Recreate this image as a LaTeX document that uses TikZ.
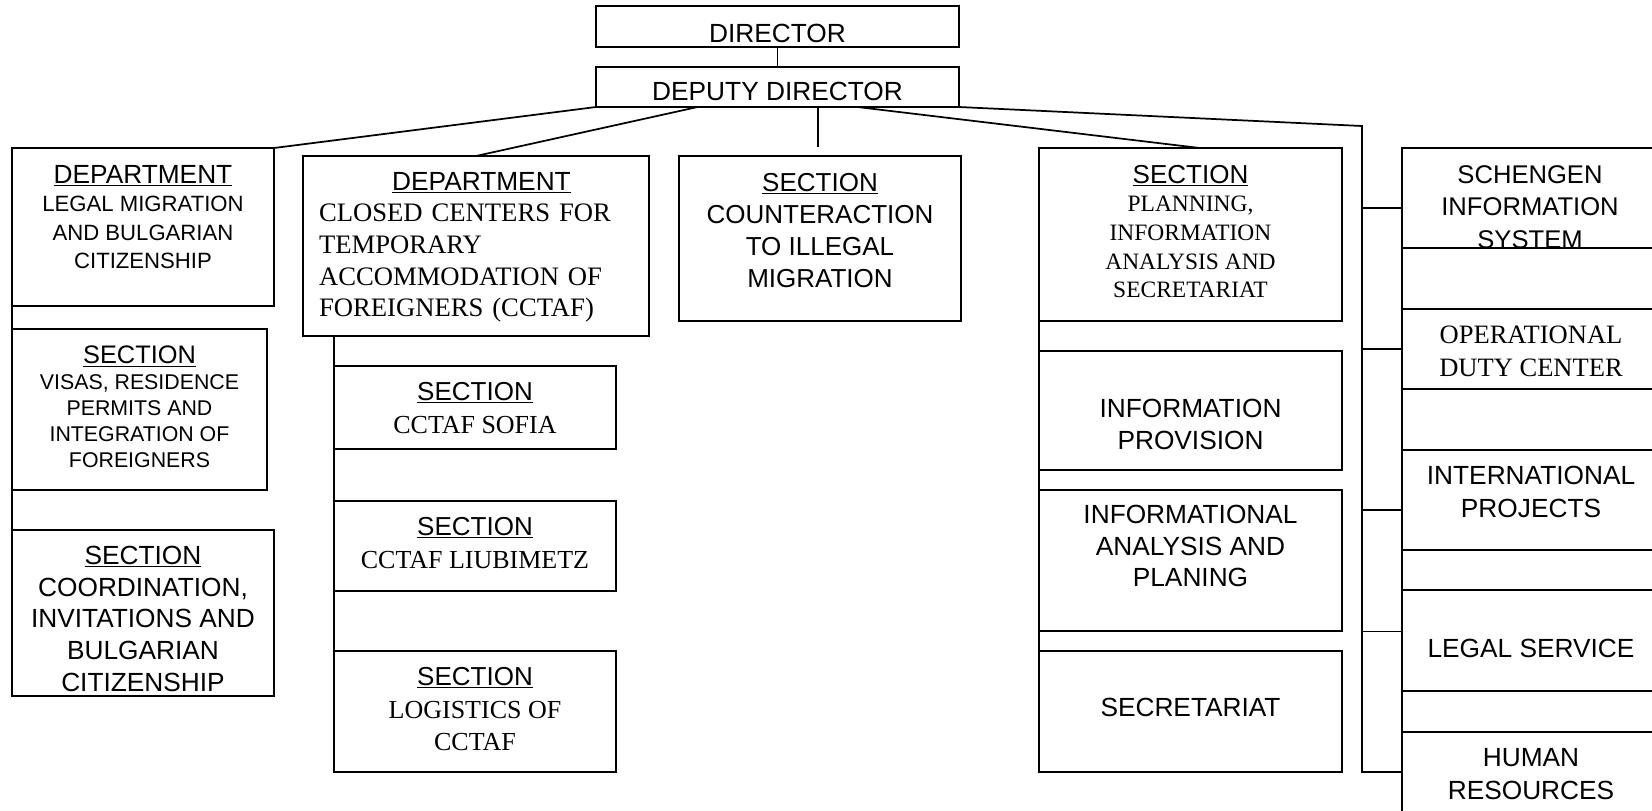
\documentclass[tikz,border=0pt]{standalone}
\usepackage{fontspec}
\setmainfont{Liberation Sans}
\newfontfamily\arial{Liberation Sans}
\newfontfamily\romain{Liberation Serif}
\usetikzlibrary{fit}
\usetikzlibrary{calc}
\newcommand*{\taille}[2]{\fontsize{#1}{#2}\selectfont}
\newcommand*{\titre}[1]{\underline{#1}}
\newcommand*{\grand}{\taille{19.7}{23.7}}
\tikzset{
	lien/.style={line width=1.3pt},
	boite/.style={draw,lien,inner sep=0pt,outer sep=0pt},
	texte/.style={anchor=north,inner sep=0pt,align=center,font=\grand},
}

\begin{document}
\begin{tikzpicture}[x=0.75pt,y=-0.75pt]
	\useasboundingbox (0,0) rectangle (1652,810);
	\clip (0,0) rectangle (1652,810);

	% direction
	\node[boite,fit={(596,6) (959,47)}] (dir) {};
	\node[texte] (tdir) at (777.5,24) {DIRECTOR};
	\node[boite,fit={(596,67) (959,107)}] (dep) {};
	\node[texte] (tdep) at (777.5,82) {DEPUTY DIRECTOR};

	% departement migration legale
	\node[boite,fit={(12,148) (274,306)}] (dlm) {};
	\node[texte,font=\taille{16.6}{21.3}] (tdlm) at (143,165)
		{{\taille{19.7}{21.3}\titre{DEPARTMENT}}\\LEGAL MIGRATION\\AND BULGARIAN\\CITIZENSHIP};
	\node[boite,fit={(12,329) (267,490)}] (vis) {};
	\node[texte,font=\taille{16}{19.5}] (tvis) at (139.5,346)
		{{\taille{19}{19.5}\titre{SECTION}}\\VISAS, RESIDENCE\\PERMITS AND\\INTEGRATION OF\\FOREIGNERS};
	\node[boite,fit={(12,530) (274,696)}] (coo) {};
	\node[texte] (tcoo) at (143,546)
		{\titre{SECTION}\\COORDINATION,\\INVITATIONS AND\\BULGARIAN\\CITIZENSHIP};

	% departement centres fermes
	\node[boite,fit={(303,156) (649,336)}] (dcc) {};
	\node[texte,align=left,text width=243.75pt,font=\romain\taille{20}{23.7}] (tdcc) at (481.5,172)
		{\centering{\arial\taille{19.7}{23.7}\titre{DEPARTMENT}}\par\raggedright
		CLOSED CENTERS FOR\\TEMPORARY\\ACCOMMODATION OF\\FOREIGNERS (CCTAF)};
	\node[boite,fit={(334,366) (616,449)}] (sof) {};
	\node[texte,font=\romain\taille{19.5}{24.5}] (tsof) at (475,382)
		{{\arial\titre{SECTION}}\\CCTAF SOFIA};
	\node[boite,fit={(334,501) (616,591)}] (liu) {};
	\node[texte,font=\romain\taille{19.5}{24.5}] (tliu) at (475,517)
		{{\arial\titre{SECTION}}\\CCTAF LIUBIMETZ};
	\node[boite,fit={(334,651) (616,772)}] (log) {};
	\node[texte,font=\romain\taille{19.5}{24.5}] (tlog) at (475,667)
		{{\arial\titre{SECTION}}\\LOGISTICS OF\\CCTAF};

	% section migration illegale
	\node[boite,fit={(679,156) (961,321)}] (cnt) {};
	\node[texte,font=\taille{19.5}{24}] (tcnt) at (820,173)
		{\titre{SECTION}\\COUNTERACTION\\TO ILLEGAL\\MIGRATION};

	% section planification
	\node[boite,fit={(1039,148) (1342,321)}] (pla) {};
	\node[texte,font=\romain\taille{17.6}{21.4}] (tpla) at (1190.5,165)
		{{\arial\taille{19.5}{21.4}\titre{SECTION}}\\PLANNING,\\INFORMATION\\ANALYSIS AND\\SECRETARIAT};
	\node[boite,fit={(1039,351) (1342,470)}] (ipr) {};
	\node[texte] (tipr) at (1190.5,399) {INFORMATION\\PROVISION};
	\node[boite,fit={(1039,490) (1342,631)}] (ian) {};
	\node[texte] (tian) at (1190.5,505) {INFORMATIONAL\\ANALYSIS AND\\PLANING};
	\node[boite,fit={(1039,651) (1342,772)}] (sec) {};
	\node[texte] (tsec) at (1190.5,698) {SECRETARIAT};

	% colonne de droite
	\node[boite,fit={(1402,148) (1660,248)}] (sis) {};
	\node[texte,font=\taille{19.2}{24.5}] (tsis) at (1530,165) {SCHENGEN\\INFORMATION\\SYSTEM};
	\node[boite,fit={(1402,309) (1660,389)}] (odc) {};
	\node[texte,font=\romain\taille{19.9}{24.5}] (todc) at (1531,326) {OPERATIONAL\\DUTY CENTER};
	\node[boite,fit={(1402,450) (1660,550)}] (ipj) {};
	\node[texte,font=\taille{19.7}{24.5}] (tipj) at (1531,466) {INTERNATIONAL\\PROJECTS};
	\node[boite,fit={(1402,590) (1660,691)}] (leg) {};
	\node[texte] (tleg) at (1531,639) {LEGAL SERVICE};
	\node[boite,fit={(1402,732) (1660,812)}] (hr) {};
	\node[texte,font=\taille{19.7}{24.5}] (thr) at (1531,748) {HUMAN\\RESOURCES};

	% liaisons
	\coordinate (bus) at (1362,126);
	\coordinate (cntHaut) at ($(cnt.north)+(-2,-9)$);
	\draw[lien] (dir) -- (dep);
	\draw[lien] (dep.south west) -- (dlm.north east);
	\draw[lien] ($(dep.south west)!.28!(dep.south east)$) -- (dcc.north);
	\draw[lien] (cntHaut |- dep.south) -- (cntHaut);
	\draw[lien] ($(dep.south west)!.72!(dep.south east)$) -- ($(pla.north west)!.53!(pla.north east)$);
	\draw[lien] (dep.south east) -- (bus) |- (hr.west);
	\foreach \b/\d in {sis/10,odc/0,ipj/10,leg/-9}{
		\coordinate (p\b) at ($(\b.west)+(0,\d)$);
		\draw[lien] (bus |- p\b) -- (p\b);
	}
	\draw[lien] (sis.north west) -- (hr.south west);
	\draw[lien] (dlm.south west) -- (coo.north west);
	\draw[lien] (sof.west |- dcc.south) -- (log.north west);
	\draw[lien] (pla.south west) -- (sec.north west);
\end{tikzpicture}
\end{document}
